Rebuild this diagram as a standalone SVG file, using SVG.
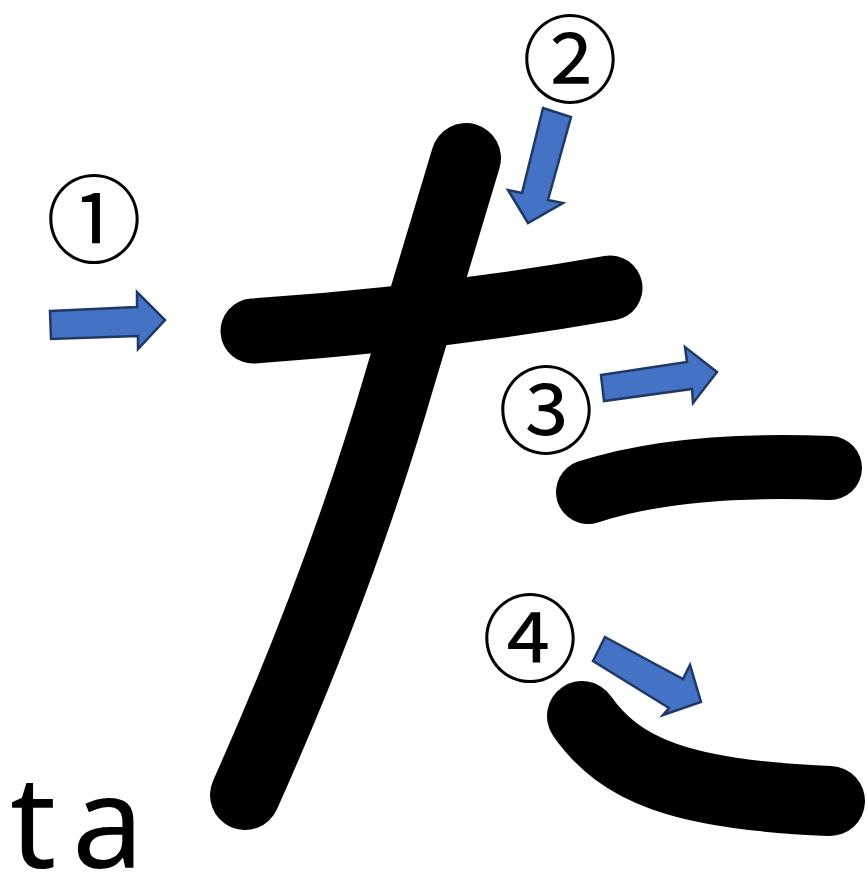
<svg xmlns="http://www.w3.org/2000/svg" width="868" height="878" viewBox="0 0 868 878">
<style>
.stroke{fill:none;stroke:#000;stroke-linecap:round;stroke-linejoin:round}
.arrow{fill:#4472C4;stroke:#203864;stroke-width:2.5;stroke-linejoin:miter}
.num{font-family:"Noto Sans CJK JP","Noto Sans CJK SC",sans-serif;font-size:96px;fill:#000;text-anchor:middle;dominant-baseline:central}
.roma{font-family:"Noto Sans","DejaVu Sans",sans-serif;font-size:128px;fill:#000}
</style>
<rect width="868" height="878" fill="#fff"/>
<g id="strokes">
<path id="stroke1" class="stroke" stroke-width="65" d="M 253 331 Q 440 318 610 288"/>
<path id="stroke2" class="stroke" stroke-width="70" d="M 466 158 L 400 378 Q 342 578 245 795"/>
<path id="stroke3" class="stroke" stroke-width="64" d="M 588 492 Q 680 462 830 468"/>
<path id="stroke4" class="stroke" stroke-width="70" d="M 582 716 C 620 770 680 795 830 801"/>
</g>
<g id="arrows">
<polygon id="arrow1" class="arrow" points="50,311 137,307 137,292 165,320 138,349 138,336 51,339"/>
<polygon id="arrow2" class="arrow" points="543,108 571,117 548,200 563,203 528,223 508,190 522,193"/>
<polygon id="arrow3" class="arrow" points="601,375 687,362 685,347 717,372 693,403 692,389 604,401"/>
<polygon id="arrow4" class="arrow" points="605,637 683,679 690,665 701,702 663,715 669,708 593,661"/>
</g>
<g id="numbers">
<text class="num" x="94" y="213">①</text>
<text class="num" x="570" y="53">②</text>
<text class="num" x="546" y="404">③</text>
<text class="num" x="530" y="632">④</text>
</g>
<text id="romaji" class="roma" y="868"><tspan x="10">t</tspan><tspan x="72">a</tspan></text>
</svg>
